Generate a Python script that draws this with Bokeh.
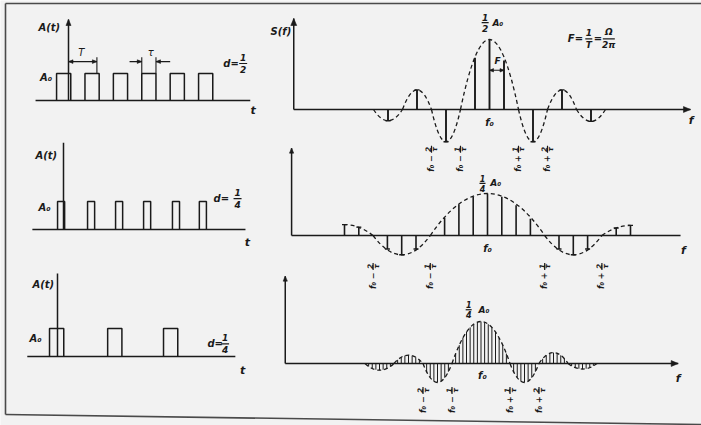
import numpy as np
from bokeh.plotting import figure
from bokeh.models import Range1d
from bokeh.embed import file_html
from bokeh.resources import INLINE
from bokeh.core.properties import value

W, H = 701, 425
INK = "#1a1a1a"
PAPER = "#f2f2f2"
FONT = "DejaVu Sans"
PI = np.pi

# ---------------- pulse trains (time in units of the period T, height in A0) -------------
row1_starts = [-0.42, 0.58, 1.58, 2.58, 3.58, 4.58]
row1_d = 0.5
row2_starts = [-0.21, 0.85, 1.84, 2.83, 3.85, 4.80]
row2_d = 0.25
row3_starts = [-0.14, 0.88, 1.86]
row3_d = 0.25
A0 = 1.0

# ---------------- line spectra (f = f0 + k*F, amplitude in units of A0) ------------------
s1_k = [-7, -5, -3, -1, 0, 1, 3, 5, 7]
s1_amp = [-0.08, 0.14, -0.23, 0.37, 0.50, 0.35, -0.23, 0.14, -0.085]
s1_lobe_lo = [-8, -6, -4, -2, 2, 4, 6]
s1_lobe_hi = [-6, -4, -2, 2, 4, 6, 8]
s1_lobe_pk = [-0.08, 0.14, -0.23, 0.50, -0.23, 0.14, -0.085]
s1_edges = [-4, -2, 2, 4]

s2_k = [-10, -9, -7, -6, -5, -3, -2, -1, 0, 1, 2, 3, 5, 6, 7, 9, 10]
s2_amp = [0.065, 0.05, -0.08, -0.115, -0.08, 0.105, 0.185, 0.23, 0.25,
          0.23, 0.18, 0.10, -0.08, -0.115, -0.08, 0.045, 0.06]
s2_lobe_lo = [-8, -4, 4]
s2_lobe_hi = [-4, 4, 8]
s2_lobe_pk = [-0.115, 0.25, -0.115]
s2_half_crest = [-10, 10]
s2_half_zero = [-8, 8]
s2_half_pk = [0.065, 0.06]
s2_edges = [-8, -4, 4, 8]

s3_f = [-15.5, -15, -14.5, -14, -13.5, -13, -12.5,
        -11.5, -11, -10.5, -10, -9.5, -9, -8.5,
        -7.5, -7, -6.5, -6, -5.5, -5, -4.5,
        -3.5, -3, -2.5, -2, -1.5, -1, -0.5, 0, 0.5, 1, 1.5, 2, 2.5, 3, 3.5,
        4.5, 5, 5.5, 6, 6.5, 7, 7.5,
        8.5, 9, 9.5, 10, 10.5, 11, 11.5,
        12.5, 13, 13.5, 14, 14.5, 15, 15.5]
s3_amp = [-0.018, -0.03, -0.037, -0.04, -0.037, -0.03, -0.018,
          0.022, 0.037, 0.047, 0.05, 0.047, 0.037, 0.022,
          -0.049, -0.085, -0.106, -0.113, -0.106, -0.085, -0.049,
          0.059, 0.109, 0.152, 0.188, 0.215, 0.234, 0.246, 0.25, 0.246, 0.234, 0.215, 0.188, 0.152, 0.109, 0.059,
          -0.049, -0.085, -0.106, -0.113, -0.106, -0.085, -0.049,
          0.028, 0.049, 0.061, 0.065, 0.061, 0.049, 0.028,
          -0.014, -0.025, -0.031, -0.033, -0.031, -0.025, -0.014]
s3_lobe_lo = [-16, -12, -8, -4, 4, 8, 12]
s3_lobe_hi = [-12, -8, -4, 4, 8, 12, 16]
s3_lobe_pk = [-0.04, 0.05, -0.113, 0.25, -0.113, 0.065, -0.033]
s3_edges = [-8, -4, 4, 8]

edge_sign = ["\u2212", "\u2212", "+", "+"]
edge_num = ["2", "1", "1", "2"]

# panel placement: origin on the page (px) and pixels per unit along x and y
PANELS = {
    "L1": (68.0, 100.0, 28.4, 27.0),
    "L2": (63.0, 229.0, 28.3, 28.0),
    "L3": (57.0, 356.0, 57.0, 28.0),
    "S1": (489.0, 109.0, 14.5, 140.0),
    "S2": (487.0, 235.0, 14.3, 168.0),
    "S3": (480.5, 363.0, 7.25, 168.0),
}

p = figure(width=W, height=H, x_range=Range1d(0, W), y_range=Range1d(H, 0),
           output_backend="svg", toolbar_location=None, min_border=0,
           x_axis_type=None, y_axis_type=None,
           background_fill_color=PAPER, border_fill_color=PAPER,
           outline_line_color=None)
p.extra_x_ranges = {n: Range1d(-ox / sx, (W - ox) / sx) for n, (ox, oy, sx, sy) in PANELS.items()}
p.extra_y_ranges = {n: Range1d(-(H - oy) / sy, oy / sy) for n, (ox, oy, sx, sy) in PANELS.items()}


def on(name):
    return dict(x_range_name=name, y_range_name=name)


def px(name):
    return PANELS[name][2], PANELS[name][3]


def label(name, x, y, s, size=10, align="left", baseline="middle", angle=0.0,
          dx=0.0, dy=0.0, style="italic"):
    sx, sy = px(name)
    p.text(x=[x + dx / sx], y=[y + dy / sy], text=[s], angle=angle,
           text_font=value(FONT), text_font_size=value(f"{size}px"),
           text_font_style=style, text_align=align, text_baseline=baseline,
           text_color=INK, **on(name))


def fraction(name, x, y, num, den, size=9, gap=5.5, bar=8, vertical=False, dx=0.0, dy=0.0):
    sx, sy = px(name)
    if not vertical:
        label(name, x, y, num, size, "center", "middle", 0.0, dx, dy + gap, "bold italic")
        label(name, x, y, den, size, "center", "middle", 0.0, dx, dy - gap, "bold italic")
        cx, cy = x + dx / sx, y + dy / sy
        p.segment(x0=[cx - bar / 2 / sx], y0=[cy], x1=[cx + bar / 2 / sx], y1=[cy],
                  line_color=INK, line_width=1.2, **on(name))
    else:
        label(name, x, y, num, size, "center", "middle", PI / 2, dx - gap, dy, "bold italic")
        label(name, x, y, den, size, "center", "middle", PI / 2, dx + gap, dy, "bold italic")
        cx, cy = x + dx / sx, y + dy / sy
        p.segment(x0=[cx], y0=[cy - bar / 2 / sy], x1=[cx], y1=[cy + bar / 2 / sy],
                  line_color=INK, line_width=1.2, **on(name))


def arrowhead(name, x, y, ux, uy, length=6.0, half=2.6):
    # filled head with its tip at (x, y), pointing along (ux, uy) on the page (uy up)
    sx, sy = px(name)
    bx, by = -ux * length, -uy * length
    nx, ny = -uy * half, ux * half
    xs = [x, x + (bx + nx) / sx, x + (bx - nx) / sx]
    ys = [y, y + (by + ny) / sy, y + (by - ny) / sy]
    p.patch(xs, ys, fill_color=INK, line_color=INK, line_width=0.6, **on(name))


def axes(name, x_lo, x_hi, y_top, up_head=0.0, right_head=0.0, lw=1.5):
    yx = 0 if name[0] == "L" else x_lo
    p.segment(x0=[yx, x_lo], y0=[0, 0], x1=[yx, x_hi], y1=[y_top, 0],
              line_color=INK, line_width=lw, **on(name))
    if up_head:
        arrowhead(name, yx, y_top, 0, 1, up_head, up_head * 0.42)
    if right_head:
        arrowhead(name, x_hi, 0, 1, 0, right_head, right_head * 0.42)


def pulses(name, starts, d, amp):
    xs = [[s, s, s + d, s + d] for s in starts]
    ys = [[0, amp, amp, 0] for s in starts]
    p.multi_line(xs, ys, line_color=INK, line_width=1.5, **on(name))


def envelope(name, lo, hi, pk, crest=None, zero=None, hpk=None):
    x0 = list(lo); x1 = list(hi)
    y0 = [0.0] * len(lo); y1 = [0.0] * len(lo)
    cx = [(a + b) / 2 for a, b in zip(lo, hi)]
    cy = [2 * v for v in pk]
    if crest:
        for c, z, v in zip(crest, zero, hpk):
            x0.append(z); y0.append(0.0); x1.append(c); y1.append(v)
            cx.append((c + z) / 2); cy.append(v)
    p.quadratic(x0=x0, y0=y0, x1=x1, y1=y1, cx=cx, cy=cy, line_color=INK,
                line_width=1.3, line_dash="4 3", **on(name))


def spectrum_lines(name, f, amp, lw, cap_from=None):
    p.segment(x0=f, y0=[0.0] * len(f), x1=f, y1=amp, line_color=INK,
              line_width=lw, **on(name))
    if cap_from is not None:
        cf = [a for a in f if abs(a) >= cap_from]
        ca = [b for a, b in zip(f, amp) if abs(a) >= cap_from]
        p.scatter(x=cf, y=ca, marker="dash", size=5, line_color=INK,
                  line_width=1.4, **on(name))


def edge_labels(name, fs, yj, size=8):
    for f, sgn, num in zip(fs, edge_sign, edge_num):
        label(name, f, yj, "f\u2080 " + sgn, size, "right", "middle", PI / 2, 0, -1,
              "bold italic")
        fraction(name, f, yj, num, "\u03c4", size=size - 0.5, gap=3.2, bar=7,
                 vertical=True, dy=5)


# ---------------- page frame ----------------
frame_x = [[5, 5], [5, 701], [5, 701]]
frame_y = [[3, 414], [3, 3], [414, 424]]
p.multi_line(frame_x, frame_y, line_color="#4a4a4a", line_width=1.6)

# ---------------- row 1: d = 1/2 ----------------
axes("L1", -1.16, 6.4, 3.0, up_head=6)
pulses("L1", row1_starts, row1_d, A0)
y_arr = 1.44
p.segment(x0=[0.0, 1.0, row1_starts[3], row1_starts[3] + row1_d, 2.15, row1_starts[3] + row1_d],
          y0=[y_arr, A0, A0, A0, y_arr, y_arr],
          x1=[1.0, 1.0, row1_starts[3], row1_starts[3] + row1_d, row1_starts[3], row1_starts[3] + row1_d + 0.5],
          y1=[y_arr, 1.6, 1.6, 1.6, y_arr, y_arr],
          line_color=INK, line_width=1.1, **on("L1"))
arrowhead("L1", 0.0, y_arr, -1, 0, 4.5, 1.8)
arrowhead("L1", 1.0, y_arr, 1, 0, 4.5, 1.8)
arrowhead("L1", row1_starts[3], y_arr, 1, 0, 4.5, 1.8)
arrowhead("L1", row1_starts[3] + row1_d, y_arr, -1, 0, 4.5, 1.8)
label("L1", -1.06, 2.7, "A(t)", 10, style="bold italic")
label("L1", -1.0, 0.85, "A\u2080", 10, style="bold italic")
label("L1", 6.5, -0.37, "t", 11, "center", style="bold italic")
label("L1", 0.45, 1.76, "T", 10, "center", style="italic")
label("L1", 2.9, 1.76, "\u03c4", 10, "center", style="italic")
label("L1", 5.45, 1.37, "d=", 10, style="bold italic")
fraction("L1", 6.15, 1.37, "1", "2", size=9, gap=6)

axes("S1", -13.5, 13.86, 0.65, up_head=7, right_head=7)
envelope("S1", s1_lobe_lo, s1_lobe_hi, s1_lobe_pk)
spectrum_lines("S1", s1_k, s1_amp, 1.9, cap_from=3)
p.segment(x0=[0.0], y0=[0.28], x1=[1.0], y1=[0.28], line_color=INK, line_width=1.1, **on("S1"))
arrowhead("S1", 0.0, 0.28, -1, 0, 4, 1.7)
arrowhead("S1", 1.0, 0.28, 1, 0, 4, 1.7)
label("S1", 0.55, 0.35, "F", 9, "center", style="bold italic")
label("S1", -15.1, 0.56, "S(f)", 10, style="bold italic")
label("S1", 13.9, -0.08, "f", 11, "center", style="bold italic")
label("S1", 0.0, -0.095, "f\u2080", 10, "center", style="bold italic")
fraction("S1", -0.3, 0.62, "1", "2", size=9, gap=5.5, bar=7)
label("S1", 0.2, 0.62, "A\u2080", 9, style="bold italic")
label("S1", 5.4, 0.505, "F=", 10, style="bold italic")
fraction("S1", 5.4, 0.505, "1", "T", size=9, gap=6, bar=7, dx=21)
label("S1", 5.4, 0.505, "=", 10, dx=26, style="bold italic")
fraction("S1", 5.4, 0.505, "\u03a9", "2\u03c0", size=9, gap=6.5, bar=12, dx=41)
edge_labels("S1", s1_edges, -0.32)

# ---------------- row 2: d = 1/4, same period ----------------
axes("L2", -1.1, 6.43, 3.1)
pulses("L2", row2_starts, row2_d, A0)
label("L2", -0.99, 2.64, "A(t)", 10, style="bold italic")
label("L2", -0.88, 0.79, "A\u2080", 10, style="bold italic")
label("L2", 6.5, -0.46, "t", 11, "center", style="bold italic")
label("L2", 5.3, 1.1, "d=", 10, style="bold italic")
fraction("L2", 6.15, 1.1, "1", "4", size=9, gap=6)

axes("S2", -13.7, 13.5, 0.52, up_head=5)
envelope("S2", s2_lobe_lo, s2_lobe_hi, s2_lobe_pk, s2_half_crest, s2_half_zero, s2_half_pk)
spectrum_lines("S2", s2_k, s2_amp, 1.6, cap_from=5)
label("S2", 13.7, -0.09, "f", 11, "center", style="bold italic")
label("S2", 0.0, -0.08, "f\u2080", 10, "center", style="bold italic")
fraction("S2", -0.35, 0.31, "1", "4", size=8, gap=5, bar=6)
label("S2", 0.2, 0.31, "A\u2080", 9, style="bold italic")
edge_labels("S2", s2_edges, -0.214)

# ---------------- row 3: d = 1/4, doubled period ----------------
axes("L3", -0.53, 3.12, 2.96)
pulses("L3", row3_starts, row3_d, A0)
label("L3", -0.44, 2.57, "A(t)", 10, style="bold italic")
label("L3", -0.49, 0.64, "A\u2080", 10, style="bold italic")
label("L3", 3.25, -0.5, "t", 11, "center", style="bold italic")
label("L3", 2.63, 0.45, "d=", 10, style="bold italic")
fraction("L3", 2.94, 0.45, "1", "4", size=9, gap=6)

axes("S3", -27.0, 27.2, 0.52, up_head=5, right_head=7)
envelope("S3", s3_lobe_lo, s3_lobe_hi, s3_lobe_pk)
spectrum_lines("S3", s3_f, s3_amp, 1.0)
label("S3", 27.2, -0.09, "f", 11, "center", style="bold italic")
label("S3", 0.2, -0.07, "f\u2080", 10, "center", style="bold italic")
fraction("S3", -1.7, 0.32, "1", "4", size=8, gap=5, bar=6)
label("S3", -0.35, 0.32, "A\u2080", 9, style="bold italic")
edge_labels("S3", s3_edges, -0.19)

open("out.html", "w").write(file_html(p, INLINE))
